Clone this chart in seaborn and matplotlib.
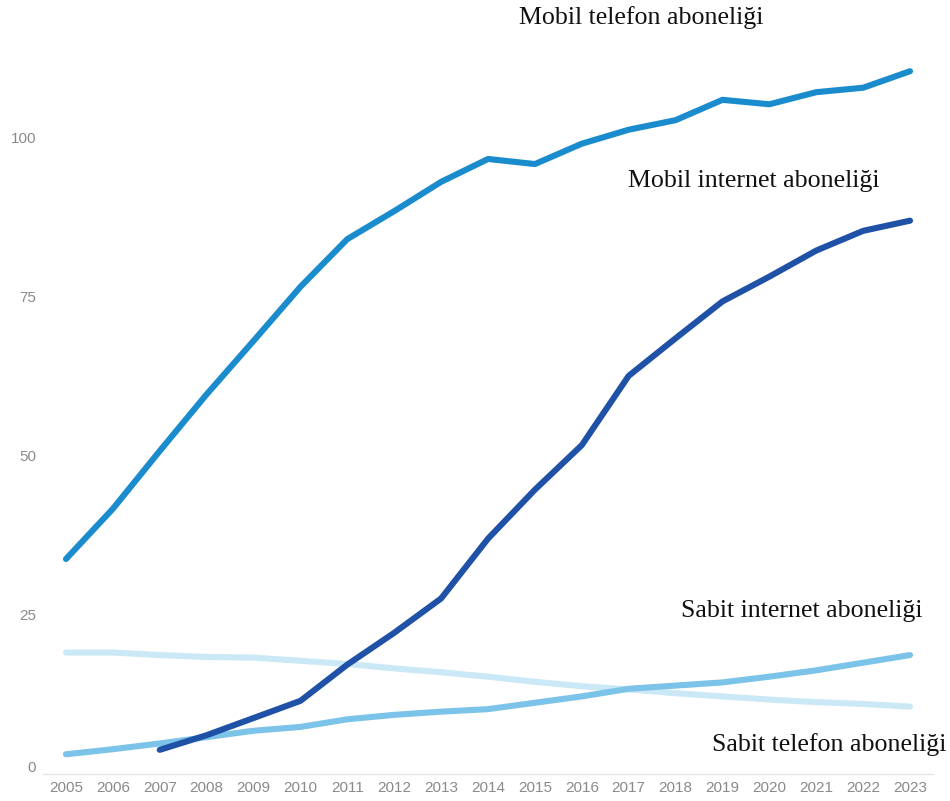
import numpy as np
import pandas as pd
import seaborn as sns
import matplotlib
matplotlib.use("Agg")
import matplotlib.pyplot as plt
import matplotlib.transforms as mtransforms

# Abonelik oranları (100 kişi başına), 2005-2023
years = list(range(2005, 2024))
mobil_telefon = [33.8, 41.7, 50.8, 59.7, 68.1, 76.6, 84.1, 88.5, 93.1, 96.7,
                 95.9, 99.1, 101.3, 102.8, 106.0, 105.3, 107.2, 107.9, 110.5]
mobil_internet = [np.nan, np.nan, 3.8, 6.1, 8.8, 11.5, 17.2, 22.2, 27.6, 37.0,
                  44.7, 51.7, 62.6, 68.5, 74.3, 78.2, 82.3, 85.4, 87.0]
sabit_internet = [3.1, 3.9, 4.8, 5.8, 6.8, 7.4, 8.6, 9.3, 9.8, 10.2,
                  11.2, 12.2, 13.4, 13.9, 14.4, 15.3, 16.3, 17.5, 18.7]
sabit_telefon = [19.1, 19.1, 18.7, 18.4, 18.3, 17.8, 17.3, 16.6, 16.0, 15.3,
                 14.5, 13.8, 13.3, 12.7, 12.2, 11.7, 11.3, 11.0, 10.6]

series_names = ["Sabit telefon aboneliği", "Sabit internet aboneliği",
                "Mobil internet aboneliği", "Mobil telefon aboneliği"]
series_values = [sabit_telefon, sabit_internet, mobil_internet, mobil_telefon]
colors = ["#cbe8f6", "#7cc3ea", "#1f52a6", "#1a8ccd"]
y_ticks = [0, 25, 50, 75, 100]

df = pd.concat(
    [pd.DataFrame({"Yıl": years, "Değer": vals, "Seri": name})
     for name, vals in zip(series_names, series_values)],
    ignore_index=True,
).dropna()

sns.set_theme(style="white")
plt.rcParams["font.family"] = ["Liberation Sans", "DejaVu Sans"]

fig = plt.figure(figsize=(9.5, 8.01), dpi=100)
ax = fig.add_axes([43 / 950, 27 / 801, 890 / 950, (774 - 23.5) / 801])

for name, color in zip(series_names, colors):
    sns.lineplot(data=df[df["Seri"] == name], x="Yıl", y="Değer",
                 color=color, linewidth=4.4, ax=ax, legend=False,
                 solid_capstyle="round", solid_joinstyle="round")

ax.set_xlim(2004.51, 2023.49)
ax.set_ylim(0, 118)
ax.set_xticks(years)
ax.set_xticklabels([str(y) for y in years])
ax.set_yticks(y_ticks)
ax.set_yticklabels([str(v) for v in y_ticks])
ax.set_xlabel("")
ax.set_ylabel("")

for side in ["top", "right", "left"]:
    ax.spines[side].set_visible(False)
ax.spines["bottom"].set_color("#e4e4e4")
ax.spines["bottom"].set_linewidth(1.0)
ax.grid(False)

ax.tick_params(axis="x", length=0, pad=5, labelsize=11, labelcolor="#8a8a8a")
ax.tick_params(axis="y", length=3, width=0.8, color="#e6e6e6", pad=2,
               labelsize=11, labelcolor="#8a8a8a")

# the zero label sits a little above the baseline
zero_lbl = ax.get_yticklabels()[0]
zero_lbl.set_transform(zero_lbl.get_transform() +
                       mtransforms.ScaledTranslation(0, 8 / 100, fig.dpi_scale_trans))

label_font = dict(family=["Liberation Serif", "DejaVu Serif"], fontsize=18.6,
                  color="#111111", va="center", ha="left", clip_on=False)
ax.text(2014.66, 119.0, "Mobil telefon aboneliği", **label_font)
ax.text(2016.98, 93.2, "Mobil internet aboneliği", **label_font)
ax.text(2018.11, 25.6, "Sabit internet aboneliği", **label_font)
ax.text(2018.77, 4.7, "Sabit telefon aboneliği", **label_font)

fig.savefig("out.png", dpi=100, facecolor="white")
